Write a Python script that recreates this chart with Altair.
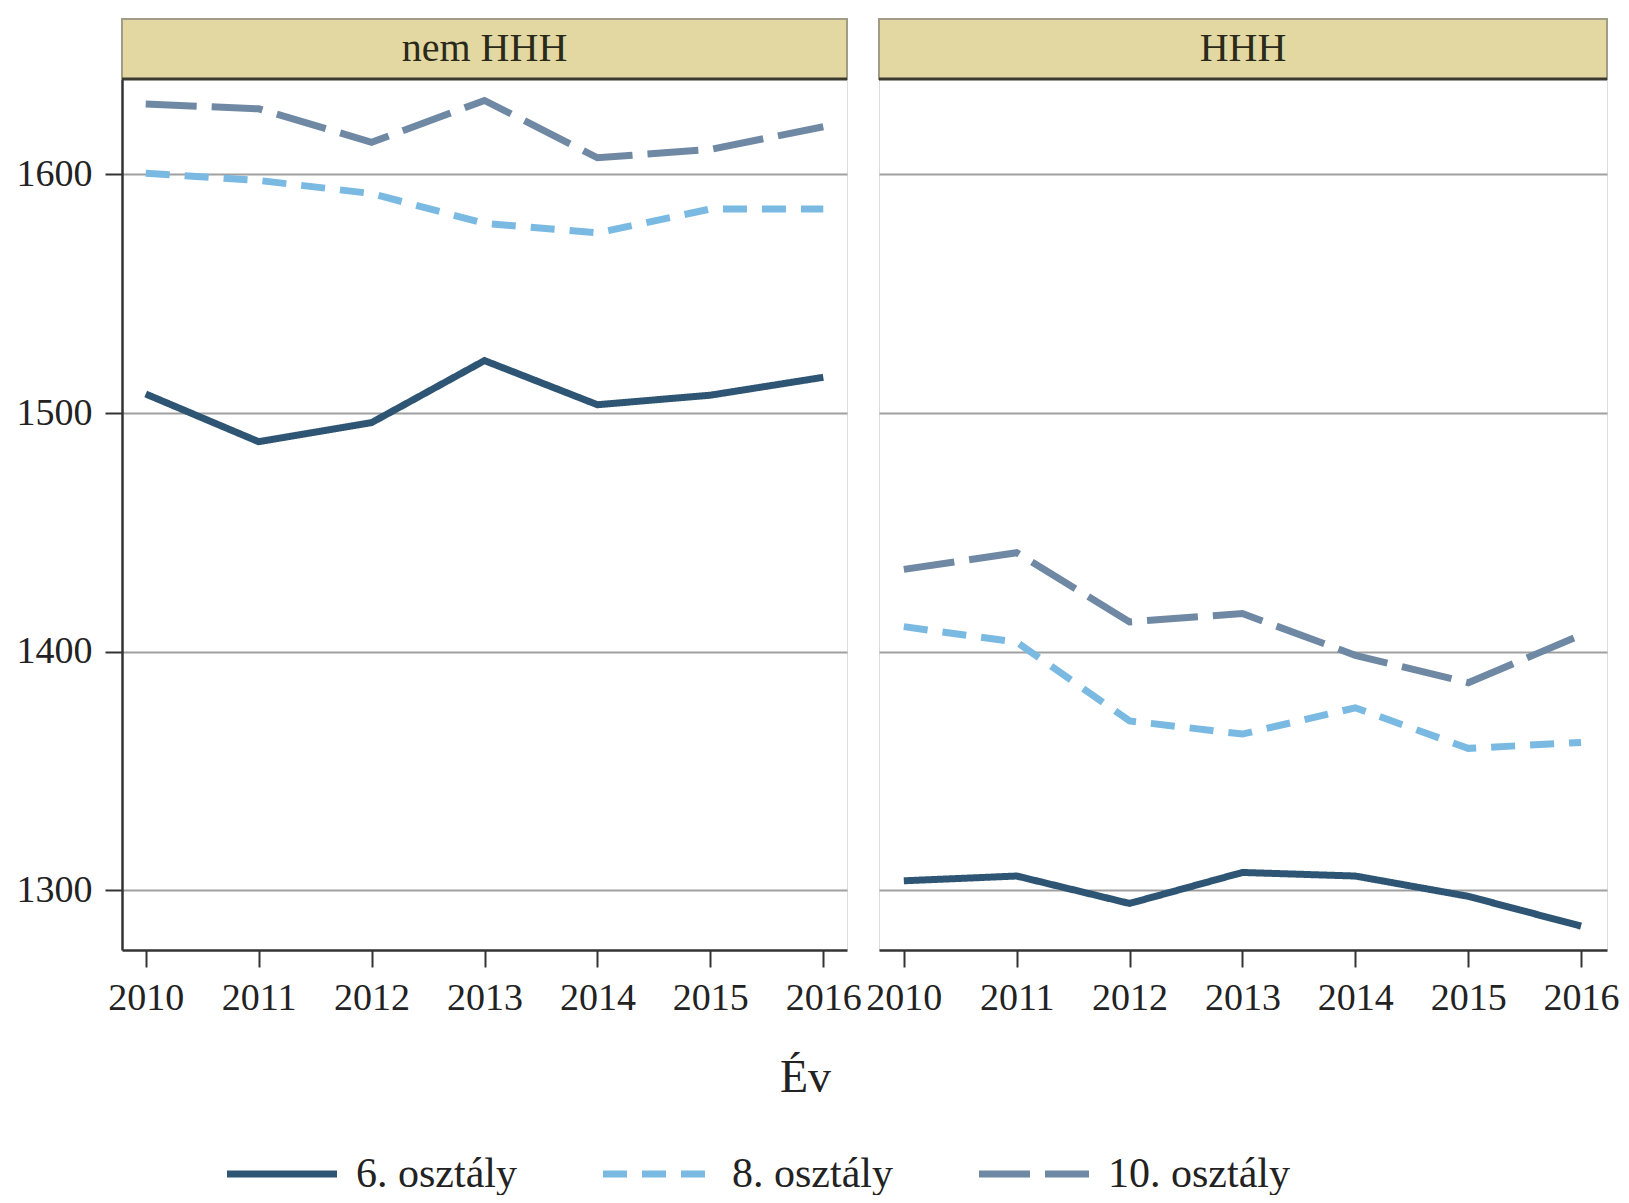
import altair as alt
import pandas as pd

years = [2010, 2011, 2012, 2013, 2014, 2015, 2016]
groups = ["nem HHH", "HHH"]
grades = ["6. osztály", "8. osztály", "10. osztály"]

nemhhh_6 = [1508, 1488, 1496, 1522, 1503.5, 1507.5, 1515]
nemhhh_8 = [1600.5, 1597.5, 1592, 1579.5, 1575.5, 1585.5, 1585.5]
nemhhh_10 = [1629.5, 1627.5, 1613.5, 1631, 1607, 1610.5, 1620]
hhh_6 = [1304, 1306, 1294.5, 1307.5, 1306, 1297.5, 1285]
hhh_8 = [1410.5, 1404, 1371, 1365.5, 1376.5, 1359.5, 1362]
hhh_10 = [1434.5, 1441.5, 1412.5, 1416, 1398.5, 1387, 1407]

series = {
    ("nem HHH", "6. osztály"): nemhhh_6,
    ("nem HHH", "8. osztály"): nemhhh_8,
    ("nem HHH", "10. osztály"): nemhhh_10,
    ("HHH", "6. osztály"): hhh_6,
    ("HHH", "8. osztály"): hhh_8,
    ("HHH", "10. osztály"): hhh_10,
}

rows = []
for (g, gr), vals in series.items():
    for y, v in zip(years, vals):
        rows.append({"csoport": g, "osztaly": gr, "ev": y, "ertek": v})
df = pd.DataFrame(rows)

FONT = "Liberation Serif"
colors = ["#2e5573", "#7ab9e1", "#6f88a3"]
dashes = [[1, 0], [24, 15], [51, 15]]
HEADER_H = 60

color_enc = alt.Color(
    "osztaly:N",
    sort=grades,
    scale=alt.Scale(domain=grades, range=colors),
    legend=alt.Legend(
        title=None,
        orient="none",
        legendX=139,
        legendY=1074,
        direction="horizontal",
        symbolType="M-5.5,0H5.5",
        symbolSize=400,
        symbolStrokeWidth=7,
        labelFont=FONT,
        labelFontSize=42,
        labelColor="#222222",
        labelOffset=53,
        columnPadding=72,
        labelLimit=400,
        padding=0,
    ),
)
dash_enc = alt.StrokeDash(
    "osztaly:N",
    sort=grades,
    scale=alt.Scale(domain=grades, range=dashes),
    legend=None,
)


def panel(group, width, xdomain, left):
    sub = df[df["csoport"] == group]
    base = alt.Chart(sub)
    if left:
        yaxis = alt.Axis(
            values=[1300, 1400, 1500, 1600], format="d",
            labelFont=FONT, labelFontSize=38, labelColor="#222222",
            tickSize=17, tickWidth=2, tickColor="#333333",
            labelPadding=13, domainColor="#333333", domainWidth=2.5,
            gridColor="#a0a0a0", gridWidth=2, title=None,
            minExtent=109, maxExtent=109,
        )
        xaxis = alt.Axis(
            values=years, format="d",
            labelFont=FONT, labelFontSize=38, labelColor="#222222",
            tickSize=17, tickWidth=2, tickColor="#333333",
            labelPadding=12, domainColor="#333333", domainWidth=2.5,
            grid=False, title="Év", titleFont=FONT, titleFontSize=46,
            titleFontWeight="normal", titleColor="#222222",
            titleX=683, titleY=141, titleBaseline="alphabetic",
            titleAnchor="start", titleAlign="center",
        )
    else:
        yaxis = alt.Axis(
            values=[1300, 1400, 1500, 1600], labels=False, ticks=False,
            domain=False, gridColor="#a0a0a0", gridWidth=2, title=None,
            minExtent=0, maxExtent=0,
        )
        xaxis = alt.Axis(
            values=years, format="d",
            labelFont=FONT, labelFontSize=38, labelColor="#222222",
            tickSize=17, tickWidth=2, tickColor="#333333",
            labelPadding=12, domainColor="#333333", domainWidth=2.5,
            grid=False, title=None,
        )

    lines = base.mark_line(strokeWidth=7, strokeCap="butt").encode(
        x=alt.X("ev:Q", scale=alt.Scale(domain=xdomain, nice=False, zero=False), axis=xaxis),
        y=alt.Y("ertek:Q", scale=alt.Scale(domain=[1275, 1640], nice=False, zero=False), axis=yaxis),
        color=color_enc,
        strokeDash=dash_enc,
        detail="osztaly:N",
    )
    hdr_df = pd.DataFrame({"cim": [group]})
    hdr = alt.Chart(hdr_df)
    rect = hdr.mark_rect(fill="#e4d8a2", stroke="#a09c86", strokeWidth=2).encode(
        x=alt.value(0), x2=alt.value(width),
        y=alt.value(-HEADER_H), y2=alt.value(0),
    )
    rule = hdr.mark_rule(color="#3a3a30", strokeWidth=3).encode(
        x=alt.value(0), x2=alt.value(width), y=alt.value(0),
    )
    txt = hdr.mark_text(font=FONT, fontSize=40, color="#2a2a1a", baseline="alphabetic", align="center").encode(
        x=alt.value(width / 2), y=alt.value(-18), text="cim:N",
    )
    return alt.layer(rect, rule, txt, lines).properties(width=width, height=871)


left = panel("nem HHH", 725, [2009.79, 2016.21], True)
right = panel("HHH", 728, [2009.78, 2016.23], False)

chart = alt.hconcat(left, right, spacing=32, bounds="flush").properties(
    padding={"left": 4, "top": 9, "right": 0, "bottom": 0}
).configure_view(
    stroke="#8a8a8a", strokeWidth=2
).configure(background="white")

chart.save("out.html", embed_options={"renderer": "svg", "actions": False})
